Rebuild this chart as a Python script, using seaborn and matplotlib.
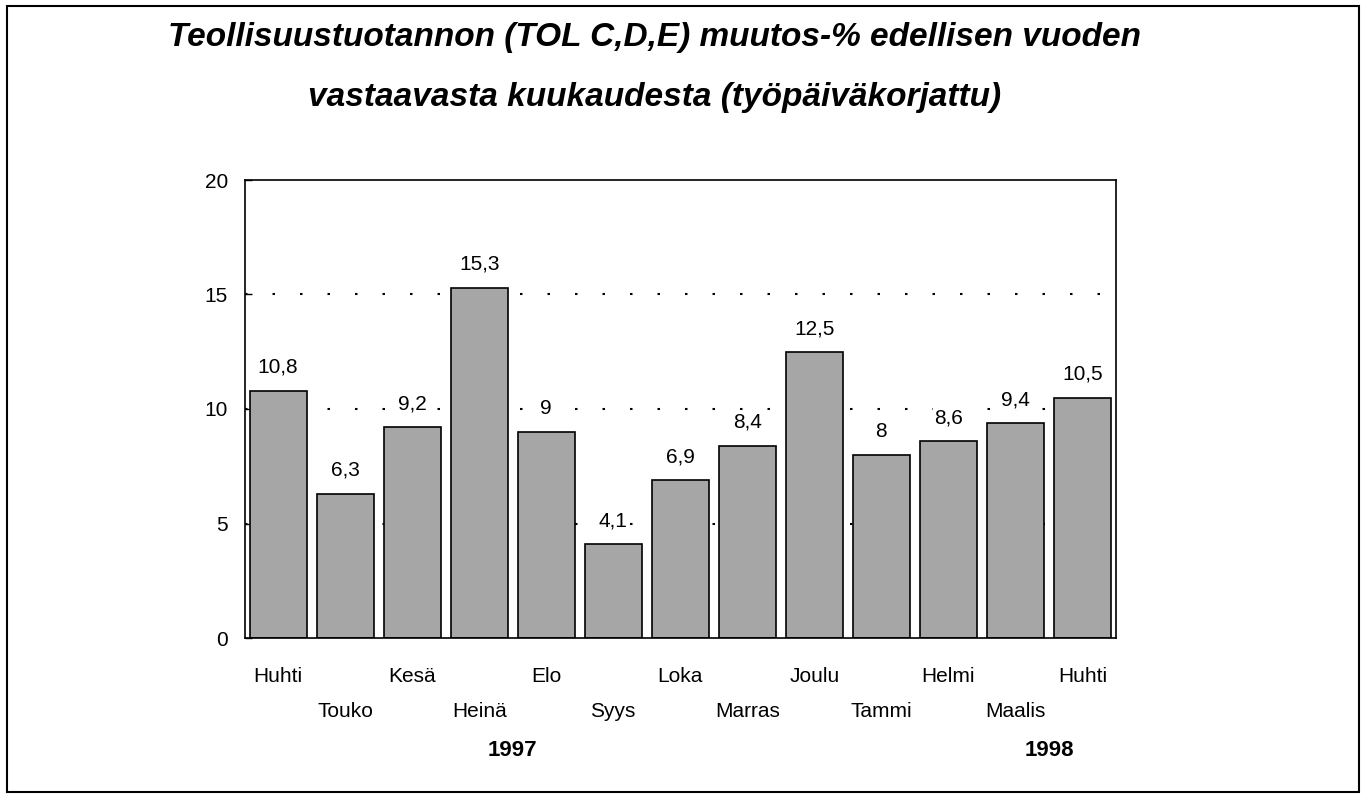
import pandas as pd
import matplotlib.pyplot as plt
import seaborn as sns
from matplotlib.patches import Rectangle

# Teollisuustuotannon muutos-% kuukausittain
kuukaudet = ["Huhti", "Touko", "Kesä", "Heinä", "Elo", "Syys", "Loka",
             "Marras", "Joulu", "Tammi", "Helmi", "Maalis", "Huhti"]
muutos = [10.8, 6.3, 9.2, 15.3, 9, 4.1, 6.9, 8.4, 12.5, 8, 8.6, 9.4, 10.5]
arvo_tekstit = ["10,8", "6,3", "9,2", "15,3", "9", "4,1", "6,9",
                "8,4", "12,5", "8", "8,6", "9,4", "10,5"]
vuodet = ["1997", "1998"]
vuosi_kohdat = [3.5, 11.5]

df = pd.DataFrame({"kk": range(len(muutos)), "muutos": muutos})

sns.set_style("white")
plt.rcParams["font.family"] = ["Liberation Sans", "DejaVu Sans"]
plt.rcParams["text.color"] = "black"
plt.rcParams["ytick.color"] = "black"
plt.rcParams["ytick.labelcolor"] = "black"

fig = plt.figure(figsize=(13.66, 8), dpi=100)
ax = fig.add_axes([0.179, 0.2025, 0.638, 0.5725])

sns.barplot(data=df, x="kk", y="muutos", color="#a6a6a6", edgecolor="black",
            linewidth=1.2, width=0.85, saturation=1, ax=ax, zorder=2)

ax.set_ylim(0, 20)
ax.set_yticks([0, 5, 10, 15, 20])
ax.set_yticklabels(["0", "5", "10", "15", "20"], fontsize=15)
for y in [5, 10, 15]:
    ax.axhline(y, color="black", linestyle=(0, (1.2, 12)), linewidth=1.5, zorder=1)

ax.set_xlim(-0.5, len(muutos) - 0.5)
ax.set_xticks([])
ax.set_xlabel("")
ax.set_ylabel("")
for s in ax.spines.values():
    s.set_visible(True)
    s.set_color("black")
    s.set_linewidth(1.2)
ax.tick_params(axis="y", direction="in", length=5, width=1, left=True, pad=12)

# arvot palkkien päälle
for i, (v, t) in enumerate(zip(muutos, arvo_tekstit)):
    ax.text(i, v + 0.6, t, ha="center", va="bottom", fontsize=15, zorder=3,
            bbox=dict(facecolor="white", edgecolor="none", pad=1))

# kuukausien nimet kahdella rivillä
for i, k in enumerate(kuukaudet):
    rivi = -0.085 if i % 2 == 0 else -0.16
    ax.text(i, rivi, k, ha="center", va="center", fontsize=15,
            transform=ax.get_xaxis_transform())
for v, x in zip(vuodet, vuosi_kohdat):
    ax.text(x, -0.245, v, ha="center", va="center", fontsize=16, fontweight="bold",
            transform=ax.get_xaxis_transform())

fig.text(0.479, 0.953, "Teollisuustuotannon (TOL C,D,E) muutos-% edellisen vuoden",
         ha="center", va="center", fontsize=24, fontweight="bold", fontstyle="italic")
fig.text(0.479, 0.878, "vastaavasta kuukaudesta (työpäiväkorjattu)",
         ha="center", va="center", fontsize=24, fontweight="bold", fontstyle="italic")

fig.patches.append(Rectangle((0.005, 0.01), 0.99, 0.983, transform=fig.transFigure,
                             fill=False, edgecolor="black", linewidth=1.5))

fig.savefig("out.png", dpi=100)
plt.close()
